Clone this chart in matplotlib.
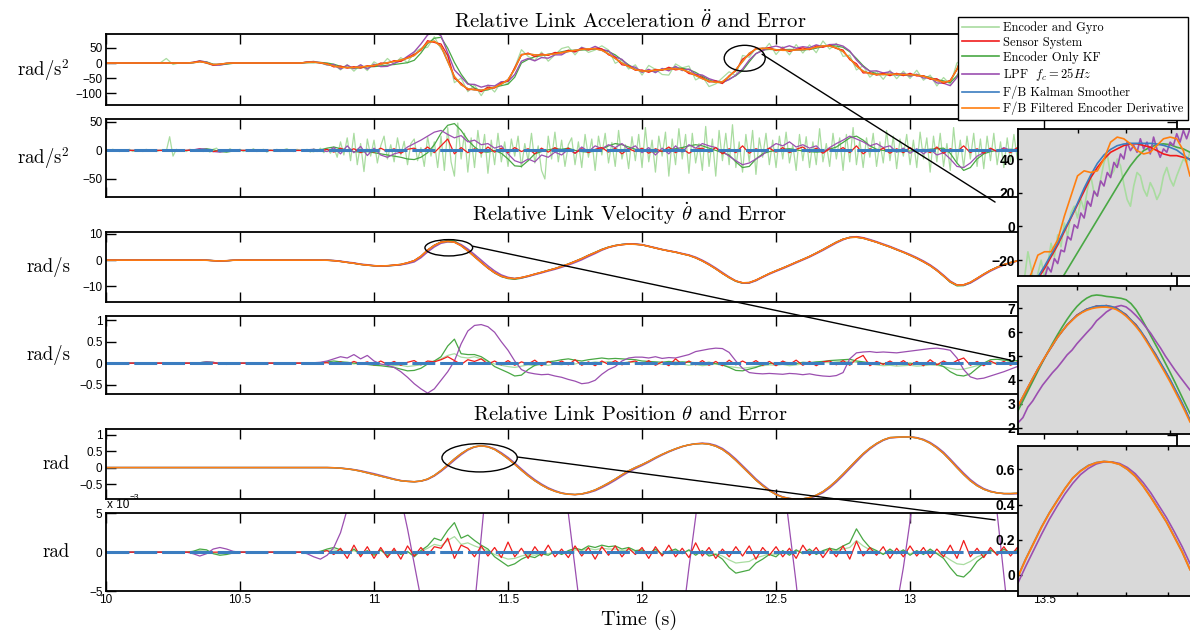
#!/usr/bin/env python3
"""Relative link acceleration / velocity / position estimates and their
errors, with zoomed insets.  Writes out.png (1190x637)."""
import numpy as np
import matplotlib
matplotlib.use("Agg")
import matplotlib.pyplot as plt
from matplotlib.patches import Ellipse, ConnectionPatch
from matplotlib.lines import Line2D

W, H = 1190, 637
SERIF = "cmr10"

plt.rcParams["font.family"] = ["Liberation Sans", "DejaVu Sans"]
plt.rcParams["mathtext.fontset"] = "cm"

# ---------------------------------------------------------------------------
# Data read off the reference; main panels sampled every 25 ms (10.0 .. 13.5 s)
# ---------------------------------------------------------------------------
T = np.round(10.0 + 0.025 * np.arange(141), 3)
T_FINE = np.round(10.0 + 0.0125 * np.arange(281), 4)

# smoother (reference) signals
ACC = [0, 0, 0, 0, 0, 0, 0, 0, 0, 0, 0, 0, 0, 1, 4, 1, -5, -4, -1, 0,
       0, 0, 0, 0, 0, 0, 0, 0, 0, 0, 2, 3, 1, -4, -10, -14, -15, -15, -13, -11,
       -8, -4, 1, 5, 10, 16, 25, 45, 68, 72, 55, 5, -45, -72, -85, -89, -90, -86, -80, -70,
       -55, -20, 28, 30, 27, 26, 28, 30, 35, 38, 42, 45, 47, 47, 42, 30, 15, 0, -12, -22,
       -27, -26, -24, -22, -20, -19, -22, -30, -41, -52, -60, -64, -62, -45, -22, 5, 32, 46, 49, 47,
       44, 42, 42, 43, 44, 47, 52, 57, 56, 50, 38, 15, -10, -27, -35, -38, -38, -37, -37, -38,
       -39, -40, -44, -50, -58, -63, -60, -20, 30, 55, 58, 55, 50, 45, 40, 35, 30, 25, 20, 15,
       10]
VEL = [0, 0, 0, 0, 0, 0, 0, 0, 0, 0, 0, 0, 0, 0, 0, -0.05, -0.2, -0.3, -0.2, -0.05,
       0, 0, 0, 0, 0, 0, 0, 0, 0, 0, 0, 0, 0, -0.05, -0.2, -0.5, -0.85, -1.2, -1.6, -1.9,
       -2.1, -2.2, -2.1, -1.9, -1.6, -1.0, -0.2, 1.5, 3.8, 5.6, 6.8, 7.1, 6.8, 5.5, 3.5, 1.3, -0.9, -3.0, -4.8, -6.1,
       -6.8, -7.0, -6.6, -6.0, -5.3, -4.6, -3.9, -3.2, -2.4, -1.5, -0.5, 0.6, 1.8, 2.9, 4.0, 4.9, 5.5, 5.9, 6.1, 6.0,
       5.8, 5.2, 4.6, 4.0, 3.5, 3.0, 2.4, 1.8, 0.9, -0.3, -1.7, -3.3, -5.0, -6.6, -7.9, -8.6, -8.5, -7.6, -6.3, -5.1,
       -4.0, -3.0, -1.9, -0.8, 0.3, 1.4, 2.7, 4.0, 5.4, 6.8, 7.9, 8.6, 8.7, 8.3, 7.6, 6.8, 5.9, 5.0, 4.0, 3.0,
       1.9, 0.7, -0.6, -2.1, -3.9, -6.0, -8.2, -9.5, -9.4, -8.4, -6.9, -5.3, -3.9, -2.7, -1.7, -0.9, -0.3, 0.2, 0.5, 0.7,
       0.8]
POS = [0, 0, 0, 0, 0, 0, 0, 0, 0, 0, 0, 0, 0, 0, 0, 0, 0, 0, 0, 0,
       0, 0, 0, 0, 0, 0, 0, 0, 0, 0, 0, 0, 0, 0, -0.005, -0.02, -0.04, -0.07, -0.11, -0.16,
       -0.21, -0.26, -0.31, -0.36, -0.40, -0.42, -0.43, -0.41, -0.35, -0.24, -0.09, 0.08, 0.26, 0.42, 0.55, 0.63, 0.66, 0.63, 0.55, 0.42,
       0.27, 0.10, -0.08, -0.25, -0.40, -0.53, -0.64, -0.72, -0.78, -0.81, -0.82, -0.80, -0.75, -0.68, -0.58, -0.47, -0.35, -0.22, -0.10, 0.0,
       0.09, 0.19, 0.30, 0.40, 0.49, 0.57, 0.64, 0.69, 0.72, 0.73, 0.71, 0.65, 0.55, 0.40, 0.22, 0.02, -0.18, -0.38, -0.55, -0.70,
       -0.82, -0.90, -0.94, -0.96, -0.95, -0.91, -0.84, -0.73, -0.58, -0.40, -0.20, 0.01, 0.22, 0.42, 0.59, 0.73, 0.84, 0.91, 0.92, 0.93,
       0.93, 0.90, 0.84, 0.74, 0.60, 0.43, 0.22, 0.0, -0.21, -0.40, -0.55, -0.66, -0.73, -0.77, -0.79, -0.79, -0.78, -0.77, -0.75, -0.73,
       -0.70]

# encoder+gyro deviation from the smoother as seen in the top panel (rad/s^2)
ACC_DEV_EG = [1, -1, 1, 0, -1, 1, -1, 1, -1, 15, -5, 1, -1, 2, 3, -2, -3, 1, -1, 1,
              -1, 1, -1, 1, -1, 1, 0, -1, 1, -1, 2, 2, -1, -3, 5, -9, 10, -12, 7, -14,
              12, -6, 14, -10, 8, -15, 11, 3, -16, 15, -8, 18, -20, 22, -10, 16, -18, 13, -16, 8,
              -13, 5, 16, -8, -18, 10, -22, -3, 13, 16, -15, 8, -12, -4, 15, 13, -16, 11, -8, 16,
              -13, 18, 3, -16, -20, 16, 6, 20, -15, 8, -18, -5, 13, 16, -20, 20, -13, 3, -11, 18,
              -16, 12, -15, 18, -11, 13, -18, 16, -10, 15, -16, 11, -13, 18, -12, 10, -16, 13, -15, 11,
              -12, 16, -13, 10, -18, 15, -11, 20, -16, 12, -13, 16, -11, 13, -15, 11, -12, 13, -10, 11,
              -8]

# acceleration errors (rad/s^2) relative to the smoother
# encoder+gyro error, every 12.5 ms
ACC_ERR_EG = [1, -1, 2, 0, -2, 1, -1, 2, -2, 0, 1, -2, 2, -1, 1, -2, 0, 1, -1, 24,
              -10, 2, -1, 1, -2, 2, 0, -1, 3, -2, 1, -3, 2, 4, -3, 1, -2, 3, -1, 0,
              2, -2, 1, -1, 3, -2, 0, 2, -3, 1, -1, 2, -2, 1, 3, -1, -2, 2, 0, -1,
              2, -3, 3, -2, 4, -4, 2, -5, 6, -12, 15, -8, 22, -18, 30, -25, 12, -37, 20, -10,
              18, -22, 8, 25, -15, 10, -20, 22, -8, 16, -25, 12, 20, -18, 5, -28, 24, -10, 15, -30,
              25, -35, 40, -20, -45, 48, -15, 30, -38, 22, -30, 35, -12, 28, -40, 18, -25, 30, -20, 15,
              -28, 20, -10, 25, -30, 12, -18, 30, -22, 8, -35, -50, 25, -15, 32, -20, 18, -28, 10, 22,
              -25, 15, -30, 28, -12, 20, -35, 25, -8, 30, -22, 14, -28, 35, -15, 10, -32, 24, -18, 28,
              -30, 40, -20, 18, -38, 25, -10, 32, -45, 20, -25, 38, -15, 28, -40, 30, -22, 12, -35, 42,
              -28, 20, -45, 35, -18, 30, -25, 45, -30, 15, -38, 28, -20, 35, -42, 22, -12, 30, -25, 18,
              -30, 25, -15, 32, -22, 10, -35, 28, -18, 24, -30, 15, -25, 38, -20, 12, -28, 30, -15, 22,
              -35, 28, -20, 40, -25, 18, -30, 22, -12, 30, -28, 15, -22, 35, -18, 25, -32, 20, -10, 28,
              -25, 18, -30, 32, -15, 22, -38, 25, -20, 30, -28, 12, -35, 40, -22, 18, -30, 25, -15, 30,
              -28, 20, -32, 25, -18, 30, -25, 15, -30, 22, -20, 28, -15, 25, -22, 18, -28, 20, -12, 25,
              -18]
ACC_ERR_SS = [0, 0, 0, 0, 0, 0, 0, 0, 0, 0, 0, 0, 0, 1, 2, -1, -2, 0, 0, 0,
              0, 0, 0, 0, 0, 0, 0, 0, 0, 0, 1, 0, -1, 2, -3, 4, -2, 3, -4, 2,
              -3, 4, -2, 3, -5, 2, 4, -3, 6, -4, 8, 20, -6, 5, -4, 3, -5, 6, -3, 4,
              -4, 5, -2, 3, -6, 4, -3, 5, -2, 4, -5, 3, -4, 2, 5, -3, 4, -6, 3, -2,
              4, -5, 3, -2, 6, -4, 3, -5, 2, 4, -3, 5, -6, 3, -4, 8, -5, 3, -2, 4,
              -3, 5, -4, 2, 6, -3, 4, -5, 3, -2, 5, -4, 8, -6, 3, -2, 4, -5, 3, -4,
              5, -3, 2, -4, 6, -5, 3, -2, 8, -4, 3, -5, 4, -2, 3, -4, 5, -3, 2, -3,
              2]
ACC_ERR_KF = [0, 0, 0, 0, 0, 0, 0, 0, 0, 0, 0, 0, 0, 0, 2, 3, 1, -2, -3, -1,
              0, 0, 0, 0, 0, 0, 0, 0, 0, 0, -1, -2, 1, 4, 6, 3, 1, -2, -3, -2,
              -4, -6, -8, -10, -12, -15, -16, -12, -4, 10, 30, 44, 47, 35, 18, 6, -2, -3, 0, -5,
              -15, -27, -28, -18, -6, -2, 1, 3, 2, 4, 0, -2, -3, -1, 2, 8, 12, 10, 6, 2,
              0, -2, -3, -1, 2, 3, 5, 8, 10, 8, 4, 0, -4, -8, -20, -30, -28, -15, -6, -2,
              0, 2, 3, 1, -1, -2, -3, -2, 2, 6, 14, 22, 25, 18, 8, 2, 0, -1, -2, -2,
              -1, 0, 1, 2, 3, 4, -5, -22, -35, -30, -15, -6, -2, 0, 1, 2, 1, 0, -1, 0,
              0]
ACC_ERR_LPF = [0, 0, 0, 0, 0, 0, 0, 0, 0, 0, 0, 0, 0, 1, 3, 2, -2, -3, -1, 0,
               0, 0, 0, 0, 0, 0, 0, 0, 0, 0, 1, 2, 0, -2, 5, -6, 8, -4, 7, -9,
               4, -8, -12, -6, -3, 6, 12, 18, 25, 32, 35, 28, 22, 26, 15, 18, 10, 12, 4, 8,
               -6, -18, -22, -15, -20, -8, -12, -3, -8, 2, -5, 6, -2, 8, 3, 10, 5, 12, 2, 8,
               -4, 5, -8, 4, -6, 8, -3, 10, 4, 12, 8, 5, -2, -10, -18, -25, -22, -15, -8, 4,
               12, 8, 15, 6, 10, 4, 8, -3, 5, 12, 18, 25, 20, 15, 8, 12, 5, 8, -3, 4,
               -5, 3, -6, 2, -8, -4, -15, -28, -30, -22, -10, -4, 3, -2, 5, 0, 3, -2, 4, 0,
               2]

# velocity errors (rad/s)
VEL_ERR_EG = [0, 0, 0, 0, 0, 0, 0, 0, 0, 0, 0, 0, 0, 0, 0.01, 0.02, 0.01, -0.01, -0.02, 0,
              0, 0, 0, 0, 0, 0, 0, 0, 0, 0, 0, 0, 0.01, 0.02, -0.01, 0.03, 0.0, -0.02, 0.01, -0.03,
              -0.02, -0.04, -0.03, -0.06, -0.05, -0.08, -0.06, -0.04, 0.02, 0.05, 0.1, 0.18, 0.22, 0.14, 0.12, 0.15, 0.1, 0.04, -0.02, -0.05,
              -0.08, -0.1, -0.07, -0.04, -0.06, -0.03, -0.05, -0.02, -0.04, 0.0, -0.02, 0.02, 0.0, 0.03, 0.01, 0.04, 0.02, 0.0, 0.03, 0.01,
              0.0, -0.02, 0.01, -0.03, -0.01, -0.04, -0.02, -0.05, -0.03, -0.06, -0.04, -0.02, -0.05, -0.08, -0.1, -0.12, -0.1, -0.08, -0.06, -0.04,
              -0.05, -0.03, -0.06, -0.04, -0.02, -0.03, 0.0, 0.02, 0.01, 0.03, 0.05, 0.04, 0.02, 0.0, -0.02, -0.04, -0.06, -0.05, -0.07, -0.06,
              -0.05, -0.07, -0.06, -0.04, -0.05, -0.08, -0.12, -0.15, -0.14, -0.1, -0.06, -0.03, -0.01, 0.02, 0.0, 0.03, 0.01, 0.02, 0.0, 0.01,
              0.0]
VEL_ERR_SS = [0, 0, 0, 0, 0, 0, 0, 0, 0, 0, 0, 0, 0, 0, 0, 0, 0, 0, 0, 0,
              0, 0, 0, 0, 0, 0, 0, 0, 0, 0, 0, 0, 0, 0.01, -0.02, 0.03, -0.03, 0.04, -0.02, 0.03,
              -0.04, 0.05, -0.03, 0.04, -0.05, 0.02, 0.06, -0.04, 0.05, 0.03, 0.08, 0.15, 0.06, -0.03, 0.08, 0.04, 0.1, -0.02, 0.05, -0.04,
              0.06, -0.05, 0.03, -0.02, 0.07, -0.06, 0.04, -0.03, 0.05, -0.04, 0.08, -0.05, 0.03, -0.06, 0.05, -0.03, 0.06, -0.04, 0.02, 0.05,
              -0.04, 0.06, -0.05, 0.03, -0.06, 0.1, -0.03, 0.05, -0.04, 0.06, -0.05, 0.04, -0.06, 0.07, -0.04, 0.05, -0.03, 0.06, -0.05, 0.04,
              -0.06, 0.05, -0.03, 0.07, -0.05, 0.04, -0.06, 0.03, 0.05, -0.04, 0.06, -0.05, 0.1, 0.18, -0.06, 0.04, -0.03, 0.05, -0.04, 0.06,
              -0.05, 0.04, -0.06, 0.08, -0.04, 0.05, -0.03, 0.06, 0.12, -0.05, 0.04, -0.06, 0.05, -0.03, 0.04, -0.05, 0.03, -0.04, 0.05, -0.02,
              0.03]
VEL_ERR_KF = [0, 0, 0, 0, 0, 0, 0, 0, 0, 0, 0, 0, 0, 0, 0.01, 0.03, 0.02, -0.02, -0.03, -0.01,
              0, 0, 0, 0, 0, 0, 0, 0, 0, 0, 0, 0, 0.01, 0.03, 0.05, 0.03, 0.02, 0.0, -0.02, -0.03,
              -0.05, -0.06, -0.08, -0.1, -0.14, -0.18, -0.17, -0.12, -0.02, 0.05, 0.15, 0.4, 0.56, 0.22, 0.2, 0.2, 0.15, 0.05, -0.08, -0.15,
              -0.22, -0.3, -0.28, -0.15, -0.05, 0.0, 0.03, 0.05, 0.08, 0.1, 0.07, 0.05, 0.08, 0.1, 0.12, 0.1, 0.11, 0.1, 0.09, 0.08,
              0.05, 0.04, 0.03, 0.02, 0.04, 0.02, 0.03, 0.02, 0.01, 0.0, 0.02, -0.01, -0.04, -0.1, -0.17, -0.18, -0.14, -0.1, -0.04, -0.01,
              0.0, 0.02, 0.01, -0.01, 0.02, 0.01, 0.03, 0.04, 0.06, 0.07, 0.08, 0.09, 0.05, 0.03, 0.01, 0.0, -0.01, 0.0, 0.01, -0.01,
              0.0, -0.02, -0.01, 0.0, -0.02, -0.08, -0.2, -0.28, -0.3, -0.25, -0.12, 0.0, 0.08, 0.09, 0.07, 0.05, 0.06, 0.04, 0.03, 0.02,
              0.02]
VEL_ERR_LPF = [0, 0, 0, 0, 0, 0, 0, 0, 0, 0, 0, 0, 0, 0, 0.01, 0.03, 0.02, -0.01, -0.02, 0,
               0, 0, 0, 0, 0, 0, 0, 0, 0, 0, 0, 0.01, 0.02, 0.05, 0.1, 0.15, 0.12, 0.2, 0.1, 0.18,
               0.05, -0.02, -0.05, -0.1, -0.2, -0.33, -0.48, -0.6, -0.7, -0.6, -0.4, -0.2, 0.05, 0.45, 0.75, 0.88, 0.9, 0.85, 0.72, 0.5,
               0.3, 0.05, -0.15, -0.22, -0.25, -0.27, -0.26, -0.3, -0.33, -0.38, -0.42, -0.48, -0.46, -0.4, -0.26, -0.15, -0.08, 0.05, 0.12, 0.14,
               0.14, 0.12, 0.15, 0.11, 0.13, 0.12, 0.16, 0.2, 0.27, 0.3, 0.33, 0.35, 0.34, 0.25, 0.05, -0.12, -0.22, -0.24, -0.25, -0.24,
               -0.25, -0.26, -0.24, -0.25, -0.27, -0.25, -0.28, -0.3, -0.31, -0.29, -0.22, 0.1, 0.24, 0.26, 0.27, 0.25, 0.26, 0.25, 0.24, 0.26,
               0.28, 0.3, 0.32, 0.34, 0.35, 0.33, 0.3, 0.12, -0.15, -0.32, -0.37, -0.35, -0.3, -0.25, -0.2, -0.14, -0.08, -0.05, -0.04, -0.03,
               -0.02]

# position errors, in units of 1e-3 rad
POS_ERR_EG = [0, 0, 0, 0, 0, 0, 0, 0, 0, 0, 0, 0, 0, 0.1, 0.2, 0.1, -0.1, -0.2, -0.1, 0,
              0, 0, 0, 0, 0, 0, 0, 0, 0, 0, 0, 0, 0.1, 0.2, 0.3, 0.1, -0.1, 0.2, -0.2, 0.1,
              -0.2, 0.2, -0.3, 0.1, -0.2, 0.0, -0.3, 0.1, 0.5, 1.0, 0.8, 1.5, 2.0, 1.0, 1.2, 0.8, 0.5, 0.2, -0.3, -0.6,
              -0.9, -0.8, -0.5, -0.3, -0.4, -0.1, -0.2, 0.1, -0.2, 0.1, 0.3, 0.2, 0.5, 0.3, 0.5, 0.4, 0.4, 0.2, 0.3, 0.1,
              0.2, -0.1, 0.2, -0.2, 0.1, 0.2, -0.1, 0.2, -0.2, 0.1, -0.3, -0.2, -0.5, -1.0, -1.4, -1.3, -1.2, -0.7, -0.5, -0.2,
              -0.3, 0.1, -0.2, 0.2, -0.1, 0.2, -0.2, 0.1, 0.3, 0.2, 0.4, 0.6, 1.5, 0.8, 0.3, 0.1, -0.2, 0.2, -0.1, 0.2,
              -0.2, 0.1, -0.2, 0.2, -0.1, -0.4, -1.0, -1.5, -1.6, -1.2, -0.6, -0.3, 0.2, -0.1, 0.2, -0.1, 0.2, -0.1, 0.1, 0.0,
              0.0]
POS_ERR_SS = [0, 0, 0, 0, 0, 0, 0, 0, 0, 0, 0, 0, 0, 0, 0, 0, 0, 0, 0, 0,
              0, 0, 0, 0, 0, 0, 0, 0, 0, 0, 0, 0, 0, 0.2, -0.3, 0.5, -0.8, 0.9, -0.6, 0.7,
              -0.8, 0.6, -0.7, 0.5, -0.9, 0.8, -0.5, 0.6, -0.4, 0.7, 0.5, 1.8, -0.8, 0.9, 0.5, -0.6, 0.8, -0.5, 0.6, -0.7,
              1.3, -0.6, 0.5, -0.8, 0.7, -0.5, 0.9, -0.6, 0.4, -0.7, 0.8, -0.5, 0.6, -0.9, 0.7, -0.4, 0.8, -0.6, 0.5, -0.3,
              0.6, -0.8, 0.7, -0.5, 0.9, -0.6, 0.5, -0.7, 1.2, -0.5, 0.6, -0.8, 0.4, -0.6, 0.7, -0.5, 0.8, -0.9, 0.6, -0.4,
              0.7, -0.6, 0.5, -0.8, 0.9, -0.4, 0.6, -0.7, 0.5, -0.6, 0.8, -0.9, 1.4, -0.5, 0.6, -0.4, 0.7, -0.8, 0.5, -0.6,
              0.8, -0.5, 0.6, -0.7, 0.4, -0.6, 0.9, -0.8, 1.5, -0.6, 0.5, -0.7, 0.6, -0.4, 0.7, -0.5, 0.6, -0.8, 0.4, -0.5,
              0.3]
POS_ERR_KF = [0, 0, 0, 0, 0, 0, 0, 0, 0, 0, 0, 0, 0, 0.1, 0.4, 0.3, -0.2, -0.4, -0.3, -0.1,
              0, 0, 0, 0, 0, 0, 0, 0, 0, 0, 0, 0, 0.1, 0.4, 0.6, 0.3, -0.2, 0.4, -0.3, 0.2,
              -0.4, 0.3, -0.5, 0.2, -0.3, 0.1, -0.6, 0.2, 0.8, 1.8, 1.5, 2.8, 3.8, 1.8, 2.2, 1.5, 0.9, 0.4, -0.6, -1.2,
              -1.8, -1.5, -0.9, -0.5, -0.7, -0.2, -0.4, 0.1, -0.3, 0.2, 0.5, 0.3, 0.8, 0.6, 0.9, 0.7, 0.8, 0.4, 0.6, 0.2,
              0.3, -0.2, 0.4, -0.3, 0.1, 0.4, -0.2, 0.3, -0.4, 0.2, -0.5, -0.3, -0.9, -2.0, -2.7, -2.5, -2.3, -1.4, -0.9, -0.3,
              -0.6, 0.2, -0.4, 0.3, -0.2, 0.4, -0.3, 0.2, 0.5, 0.3, 0.8, 1.2, 3.0, 1.6, 0.6, 0.2, -0.3, 0.4, -0.2, 0.3,
              -0.4, 0.2, -0.3, 0.4, -0.2, -0.8, -2.0, -3.0, -3.2, -2.4, -1.2, -0.5, 0.3, -0.2, 0.4, -0.1, 0.3, -0.2, 0.2, 0.0,
              0.1]
POS_ERR_LPF = [0, 0, 0, 0, 0, 0, 0, 0, 0, 0, 0, 0, 0, -0.2, -0.5, -0.2, 0.4, 0.6, 0.4, 0.1,
               0, 0, 0, 0, 0, 0, 0, 0, 0, 0, -0.2, -0.6, -0.9, -0.4, 0.6, 2.5, 5.5, 10, 15, 20,
               26, 24, 20, 14, 7, 3, -1.5, -6, -12, -20, -28, -34, -38, -33, -22, -7, 2, 11, 22, 32,
               38, 40, 40, 38, 34, 30, 26, 21, 11, 5, -2, -9, -17, -25, -32, -36, -38, -38, -36, -33,
               -30, -27, -24, -21, -17, -13, -9, -2, 4.5, 12, 19, 26, 32, 37, 40, 41, 40, 37, 32, 26,
               18, 10, 3, -4, -12, -20, -28, -35, -40, -43, -44, -43, -40, -35, -29, -23, -17, -12, -7, -2,
               4, 11, 18, 25, 32, 38, 42, 44, 44, 40, 33, 24, 14, 5, -3, -11, -19, -26, -32, -36,
               -38]

# inset 1: acceleration around 12.34 .. 12.47 s
IN_ACC_T = np.round(12.34 + 0.005 * np.arange(27), 4)
IN_ACC_T2 = np.round(12.34 + 0.0025 * np.arange(53), 5)
IN_ACC_SM = [-50, -43, -36, -30, -23.6, -16.7, -9.9, -2, 5.5, 13.8, 22.7, 30.5, 37.4, 42.4,
             45.7, 47.9, 48.9, 49.3, 49.3, 49.3, 49.3, 48.9, 48.1, 46.9, 45.3, 42.4, 39.4]
IN_ACC_SS = [-52, -45, -38, -31, -25, -18, -11, -3, 5, 13, 21, 29, 35, 40, 44, 46, 48, 49,
             49, 48, 47, 45, 43, 42, 42, 41, 40]
IN_ACC_FD = [-45, -36, -28, -17, -15, -15, -8, 6, 18, 30, 33, 32, 33, 40, 50, 53, 52, 49,
             45, 43, 44, 48, 52, 53, 52, 45, 30]
IN_ACC_KF = [-75, -69, -62, -55, -48, -42, -35, -28.5, -22, -15.5, -9, -2.5, 4, 10.5, 17,
             23.5, 30, 36, 41, 45, 47, 48.5, 49, 48.5, 47, 46, 44]
IN_ACC_LPF = [-50, -45, -44, -38, -40, -34, -36, -30, -31, -24, -27, -19, -22, -14, -15, -6,
              -8, 1, -1, 8, 5, 15, 12, 21, 18, 27, 24, 32, 29, 38, 35, 43, 40, 50, 45, 48,
              44, 52, 46, 50, 43, 53, 46, 41, 46, 44, 50, 48, 55, 50, 57, 52, 58]
IN_ACC_EG = [-35, -40, -30, -15, -25, -35, -28, -20, -30, -22, -10, -18, -5, -12, 2, -6, 8,
             12, 5, 16, 10, 22, 30, 20, 18, 28, 38, 43, 30, 33, 40, 36, 25, 16, 12, 24, 32,
             30, 22, 18, 26, 22, 16, 20, 30, 35, 28, 24, 30, 35, 40, 38, 44]

# inset 2: velocity around the first peak
IN_VEL_T = np.round(11.19 + 0.005 * np.arange(36), 4)
IN_VEL_SM = [2.9, 3.29, 3.68, 4.07, 4.43, 4.79, 5.12, 5.45, 5.77, 6.05, 6.3, 6.52, 6.7, 6.85,
             6.96, 7.04, 7.09, 7.11, 7.11, 7.08, 7.0, 6.88, 6.72, 6.52, 6.3, 6.05, 5.72, 5.4,
             5.06, 4.72, 4.37, 4.0, 3.6, 3.2, 2.78, 2.32]
IN_VEL_SS = [2.88, 3.27, 3.67, 4.05, 4.44, 4.78, 5.13, 5.44, 5.78, 6.04, 6.31, 6.5, 6.72,
             6.84, 6.97, 7.02, 7.1, 7.08, 7.12, 7.06, 7.02, 6.86, 6.74, 6.5, 6.32, 6.02, 5.74,
             5.38, 5.08, 4.7, 4.35, 3.98, 3.58, 3.18, 2.76, 2.3]
IN_VEL_FD = [2.92, 3.3, 3.69, 4.07, 4.44, 4.8, 5.13, 5.46, 5.77, 6.05, 6.29, 6.5, 6.68, 6.82,
             6.92, 6.99, 7.03, 7.05, 7.05, 7.02, 6.95, 6.83, 6.67, 6.47, 6.24, 5.98, 5.66, 5.33,
             4.98, 4.63, 4.27, 3.9, 3.5, 3.1, 2.68, 2.24]
IN_VEL_KF = [2.71, 3.12, 3.53, 3.94, 4.35, 4.75, 5.14, 5.52, 5.88, 6.22, 6.54, 6.83, 7.08,
             7.28, 7.43, 7.53, 7.56, 7.54, 7.5, 7.48, 7.45, 7.42, 7.36, 7.2, 6.95, 6.62, 6.25,
             5.86, 5.48, 5.1, 4.7, 4.3, 3.88, 3.45, 3.02, 2.6]
IN_VEL_LPF = [2.2, 2.42, 2.86, 3.12, 3.46, 3.78, 4.04, 4.3, 4.52, 4.78, 5.05, 5.25, 5.52, 5.75,
              5.98, 6.2, 6.48, 6.66, 6.85, 6.98, 7.07, 7.12, 7.06, 6.9, 6.7, 6.48, 6.22, 5.96,
              5.64, 5.34, 5.0, 4.7, 4.4, 4.12, 3.85, 3.58]

# inset 3: position around the first peak
IN_POS_T = np.round(11.26 + 0.0125 * np.arange(23), 4)
IN_POS_SM = [-0.008, 0.092, 0.182, 0.272, 0.352, 0.422, 0.49, 0.55, 0.592, 0.622, 0.638, 0.645,
             0.641, 0.628, 0.6, 0.561, 0.506, 0.442, 0.372, 0.3, 0.217, 0.131, 0.032]
IN_POS_FD = [-0.01, 0.09, 0.18, 0.27, 0.35, 0.42, 0.49, 0.55, 0.59, 0.62, 0.637, 0.644, 0.64,
             0.628, 0.60, 0.56, 0.505, 0.44, 0.37, 0.30, 0.215, 0.13, 0.03]
IN_POS_LPF = [-0.045, 0.05, 0.14, 0.23, 0.315, 0.39, 0.46, 0.52, 0.57, 0.605, 0.63, 0.642,
              0.642, 0.633, 0.61, 0.575, 0.525, 0.465, 0.395, 0.325, 0.245, 0.16, 0.065]

LABELS = ["Encoder and Gyro", "Sensor System", "Encoder Only KF",
          r"LPF  $f_c = 25Hz$", "F/B Kalman Smoother", "F/B Filtered Encoder Derivative"]

C_EG, C_SS, C_KF = "#a9dca0", "#f01c1c", "#49a844"
C_LPF, C_SM, C_FD = "#9b4fb0", "#3b7dc0", "#ff7f10"


def a(x):
    return np.asarray(x, dtype=float)


def px_rect(l, t, r, b):
    return [l / W, 1 - b / H, (r - l) / W, (b - t) / H]


fig = plt.figure(figsize=(W / 100, H / 100), dpi=100)
fig.patch.set_facecolor("white")

# ---------------------------------------------------------------------------
# main panels
# ---------------------------------------------------------------------------
PANELS = [(34.3, 105.0), (119.0, 196.7), (231.7, 302.3),
          (316.0, 394.0), (428.7, 499.0), (513.3, 591.0)]
axes = [fig.add_axes(px_rect(106, t, 1177, b)) for t, b in PANELS]

for i, ax in enumerate(axes):
    ax.set_xlim(10, 13.996)
    ax.set_xticks(np.arange(10, 13.6, 0.5))
    ax.tick_params(direction="in", top=True, right=True, length=7, width=1.0,
                   labelsize=8.5, pad=2.5, labelbottom=(i == 5))
    for s in ax.spines.values():
        s.set_linewidth(1.3)

axes[5].set_xticklabels(["10", "10.5", "11", "11.5", "12", "12.5", "13", "13.5"])

LW = 0.9
# acceleration
ax = axes[0]
acc = a(ACC)
ax.plot(T, acc + a(ACC_DEV_EG), color=C_EG, lw=LW)
ax.plot(T, acc + a(ACC_ERR_KF), color=C_KF, lw=LW)
ax.plot(T, acc + a(ACC_ERR_LPF), color=C_LPF, lw=1.0)
ax.plot(T, acc, color=C_SM, lw=1.0)
ax.plot(T, acc + a(ACC_ERR_SS), color=C_SS, lw=LW)
ax.plot(T, acc, color=C_FD, lw=1.1)
ax.set_ylim(-139, 95)
ax.set_yticks([-100, -50, 0, 50])

# velocity
ax = axes[2]
vel = a(VEL)
ax.plot(T, vel + a(VEL_ERR_EG), color=C_EG, lw=LW)
ax.plot(T, vel + a(VEL_ERR_KF), color=C_KF, lw=LW)
ax.plot(T, vel + a(VEL_ERR_LPF), color=C_LPF, lw=1.0)
ax.plot(T, vel, color=C_SM, lw=1.0)
ax.plot(T, vel + a(VEL_ERR_SS), color=C_SS, lw=LW)
ax.plot(T, vel, color=C_FD, lw=1.1)
ax.set_ylim(-16, 10.8)
ax.set_yticks([-10, 0, 10])

# position
ax = axes[4]
pos = a(POS)
ax.plot(T, pos + a(POS_ERR_LPF) * 1e-3, color=C_LPF, lw=1.0)
ax.plot(T, pos + a(POS_ERR_KF) * 1e-3, color=C_KF, lw=LW)
ax.plot(T, pos, color=C_SM, lw=1.0)
ax.plot(T, pos, color=C_FD, lw=1.1)
ax.set_ylim(-0.955, 1.18)
ax.set_yticks([-0.5, 0, 0.5, 1])
ax.set_yticklabels(["\u22120.5", "0", "0.5", "1"])

# error panels
ZERO = np.zeros_like(T)
for ax, (te, eg), kf, lpf, ss in [
        (axes[1], (T_FINE, ACC_ERR_EG), ACC_ERR_KF, ACC_ERR_LPF, ACC_ERR_SS),
        (axes[3], (T, VEL_ERR_EG), VEL_ERR_KF, VEL_ERR_LPF, VEL_ERR_SS),
        (axes[5], (T, POS_ERR_EG), POS_ERR_KF, POS_ERR_LPF, POS_ERR_SS)]:
    ax.plot(te, a(eg), color=C_EG, lw=LW)
    ax.plot(T, a(kf), color=C_KF, lw=LW)
    ax.plot(T, a(lpf), color=C_LPF, lw=LW)
    ax.plot(T, a(ss), color=C_SS, lw=LW)
    ax.plot(T, ZERO, color=C_SM, lw=2.2, dashes=(7.5, 1.6))

axes[1].set_ylim(-81, 55)
axes[1].set_yticks([-50, 0, 50])
axes[3].set_ylim(-0.72, 1.1)
axes[3].set_yticks([-0.5, 0, 0.5, 1])
axes[3].set_yticklabels(["\u22120.5", "0", "0.5", "1"])
axes[5].set_ylim(-5, 5)
axes[5].set_yticks([-5, 0, 5])

# y labels
YLABELS = ["rad/s$^2$", "rad/s$^2$", "rad/s", "rad/s", "rad", "rad"]
for (t, b), lab in zip(PANELS, YLABELS):
    fig.text(70 / W, 1 - (t + b) / 2 / H, lab, ha="right", va="center",
             family=SERIF, fontsize=13.5)

# titles and x label
TITLES = [(21, r"Relative Link Acceleration $\ddot{\theta}$ and Error"),
          (214, r"Relative Link Velocity $\dot{\theta}$ and Error"),
          (415, r"Relative Link Position $\theta$ and Error")]
for y, txt in TITLES:
    fig.text(630 / W, 1 - y / H, txt, ha="center", va="center",
             family=SERIF, fontsize=14.8)
fig.text(639 / W, 1 - 620 / H, "Time (s)", ha="center", va="center",
         family=SERIF, fontsize=14.5)

# exponent label of the position error axis
fig.text(107 / W, 1 - 508 / H, "x 10", fontsize=8.5, ha="left", va="baseline")
fig.text(130 / W, 1 - 499 / H, "\u22123", fontsize=6, ha="left", va="baseline")

# ---------------------------------------------------------------------------
# zoom insets
# ---------------------------------------------------------------------------
INSETS = [(129.0, 275.7), (285.7, 434.3), (445.7, 595.7)]
ins = [fig.add_axes(px_rect(1018, t, 1193, b)) for t, b in INSETS]
for axi in ins:
    axi.set_facecolor("#d9d9d9")
    axi.tick_params(direction="in", length=3, width=1.0, labelsize=10,
                    labelbottom=False, top=True, pad=2)
    for s in axi.spines.values():
        s.set_linewidth(1.3)

ILW = 1.2
axi = ins[0]
axi.plot(IN_ACC_T2, IN_ACC_EG, color=C_EG, lw=ILW)
axi.plot(IN_ACC_T, IN_ACC_KF, color=C_KF, lw=ILW)
axi.plot(IN_ACC_T2, IN_ACC_LPF, color=C_LPF, lw=ILW)
axi.plot(IN_ACC_T, IN_ACC_SS, color=C_SS, lw=ILW)
axi.plot(IN_ACC_T, IN_ACC_SM, color=C_SM, lw=ILW)
axi.plot(IN_ACC_T, IN_ACC_FD, color=C_FD, lw=ILW)
axi.set_xlim(12.34, 12.4723)
axi.set_ylim(-29.2, 57.8)
axi.set_yticks([-20, 0, 20, 40])
axi.set_xticks([12.385, 12.422, 12.456])

axi = ins[1]
axi.plot(IN_VEL_T, IN_VEL_KF, color=C_KF, lw=ILW)
axi.plot(IN_VEL_T, IN_VEL_LPF, color=C_LPF, lw=ILW)
axi.plot(IN_VEL_T, IN_VEL_SS, color=C_SS, lw=ILW)
axi.plot(IN_VEL_T, IN_VEL_SM, color=C_SM, lw=ILW)
axi.plot(IN_VEL_T, IN_VEL_FD, color=C_FD, lw=ILW)
axi.set_xlim(11.19, 11.3681)
axi.set_ylim(1.72, 7.95)
axi.set_yticks([2, 3, 4, 5, 6, 7])
axi.set_xticks([11.25, 11.30, 11.345])

axi = ins[2]
axi.plot(IN_POS_T, IN_POS_LPF, color=C_LPF, lw=ILW)
axi.plot(IN_POS_T, IN_POS_SM, color=C_SM, lw=ILW)
axi.plot(IN_POS_T, IN_POS_FD, color=C_FD, lw=1.4)
axi.set_xlim(11.26, 11.5398)
axi.set_ylim(-0.118, 0.734)
axi.set_yticks([0, 0.2, 0.4, 0.6])
axi.set_yticklabels(["0", "0.2", "0.4", "0.6"])
axi.set_xticks([11.355, 11.432, 11.5])

for axi in ins:
    for lab in axi.get_yticklabels():
        lab.set_fontweight("bold")

# ellipses marking the zoomed regions, and the connector lines
MARKS = [(axes[0], (12.383, 15.7), 0.153, 85.7, (12.448, 29.0), ins[0], (-0.131, 0.502)),
         (axes[2], (11.279, 4.7), 0.178, 6.2, (11.368, 5.3), ins[1], (-0.046, 0.50)),
         (axes[4], (11.394, 0.297), 0.281, 0.86, (11.535, 0.32), ins[2], (-0.131, 0.505))]
for ax, c, w, h, start, axi, end in MARKS:
    ax.add_patch(Ellipse(c, w, h, fill=False, edgecolor="k", lw=1.0,
                         zorder=10, clip_on=False))
    cp = ConnectionPatch(xyA=start, coordsA=ax.transData, xyB=end,
                         coordsB=axi.transAxes, color="k", lw=1.0)
    fig.add_artist(cp)

# legend
handles = [Line2D([], [], color=c, lw=1.2)
           for c in (C_EG, C_SS, C_KF, C_LPF, C_SM, C_FD)]
leg = fig.legend(handles, LABELS, loc="upper left",
                 bbox_to_anchor=(958 / W, 1 - 17 / H),
                 prop={"family": SERIF, "size": 9}, frameon=True,
                 fancybox=False, framealpha=1, edgecolor="k",
                 handlelength=2.9, handletextpad=0.35, labelspacing=0.2,
                 borderpad=0.35, borderaxespad=0)
leg.get_frame().set_linewidth(1.0)

fig.savefig("out.png", dpi=100)
